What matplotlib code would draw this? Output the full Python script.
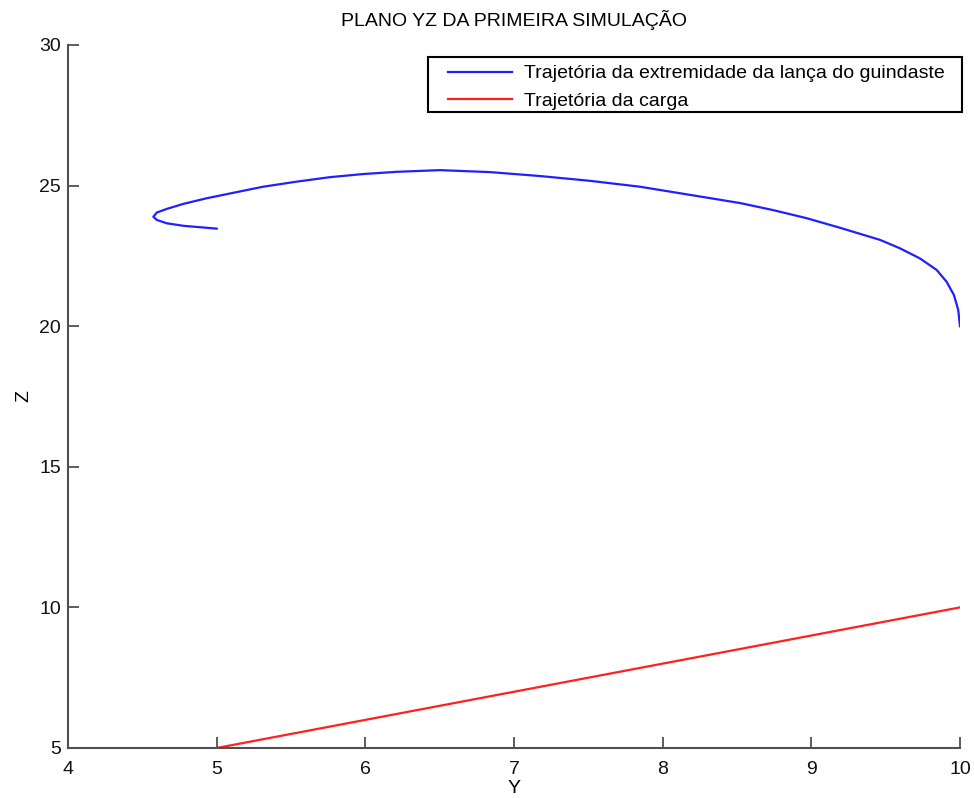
import matplotlib
matplotlib.use("Agg")
import matplotlib.pyplot as plt
from matplotlib.patches import Rectangle

plt.rcParams['font.family'] = ['Liberation Sans', 'DejaVu Sans']

# trajectory of the boom tip in the YZ plane
boom_y = [10.0, 9.988, 9.959, 9.91, 9.843, 9.731, 9.596, 9.462, 9.193, 8.969,
          8.742, 8.52, 8.184, 7.847, 7.511, 7.175, 6.838, 6.502, 6.211, 5.984,
          5.762, 5.538, 5.312, 5.09, 4.933, 4.776, 4.664, 4.597, 4.574, 4.597,
          4.664, 4.776, 4.888, 5.0]
boom_z = [20.0, 20.58, 21.11, 21.58, 22.0, 22.41, 22.77, 23.07, 23.5, 23.84,
          24.13, 24.38, 24.67, 24.96, 25.17, 25.34, 25.48, 25.55, 25.49, 25.41,
          25.3, 25.14, 24.96, 24.72, 24.55, 24.35, 24.17, 24.04, 23.89, 23.78,
          23.66, 23.57, 23.52, 23.47]

# trajectory of the load
load_y = [5.0, 10.0]
load_z = [5.0, 10.0]

x_ticks = [4, 5, 6, 7, 8, 9, 10]
y_ticks = [5, 10, 15, 20, 25, 30]

W, H = 974, 798
fig = plt.figure(figsize=(W / 100, H / 100), dpi=100)
ax = fig.add_axes([68/W, 1 - 748/H, (960 - 68)/W, (748 - 45)/H])

ax.plot(boom_y, boom_z, color='#2020ff', lw=1.6,
        label='Trajetória da extremidade da lança do guindaste')
ax.plot(load_y, load_z, color='#ff2020', lw=1.6, label='Trajetória da carga')

ax.set_xlim(4, 10)
ax.set_ylim(5, 30)
ax.set_xticks(x_ticks)
ax.set_yticks(y_ticks)

for side in ['top', 'right']:
    ax.spines[side].set_visible(False)
for side in ['left', 'bottom']:
    ax.spines[side].set_color('#505050')
    ax.spines[side].set_linewidth(1.5)

ax.tick_params(direction='in', length=8, width=1.3, color='#505050',
               labelsize=14, labelcolor='#111111')
ax.tick_params(axis='x', pad=9)
ax.tick_params(axis='y', pad=5)

ax.set_xlabel('Y', fontsize=14, labelpad=2)
ax.set_ylabel('Z', fontsize=14, labelpad=5)
ax.set_title('PLANO YZ DA PRIMEIRA SIMULAÇÃO', fontsize=14, pad=14)

# legend without its own frame, boxed separately so the padding is wider
leg = ax.legend(loc='upper left', bbox_to_anchor=(440/W, 1 - 57/H),
                bbox_transform=fig.transFigure, borderaxespad=0,
                frameon=False, fontsize=14, handlelength=3.3,
                handletextpad=0.6, labelspacing=0.5, borderpad=0.4)
leg.set_zorder(5)
ax.add_patch(Rectangle((428/W, 1 - 112/H), (962 - 428)/W, 55/H,
                       transform=fig.transFigure, clip_on=False,
                       facecolor='white', edgecolor='black', lw=1.5,
                       zorder=4))

fig.savefig('out.png', dpi=100)
